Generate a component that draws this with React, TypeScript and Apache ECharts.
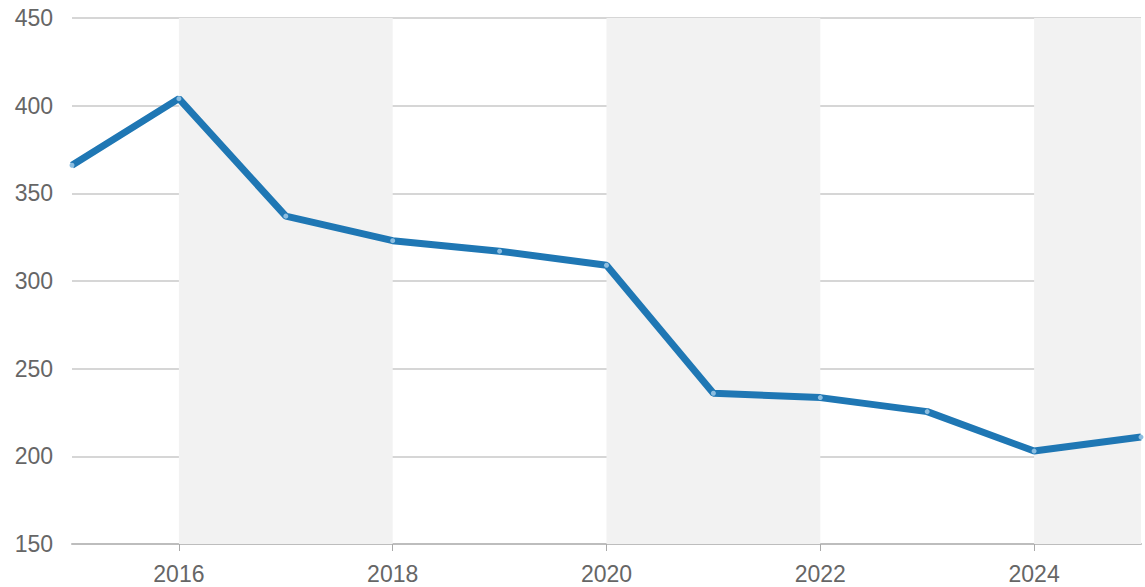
import React, { useEffect, useRef } from "react";
import * as echarts from "echarts";

const years = ["2015", "2016", "2017", "2018", "2019", "2020", "2021", "2022", "2023", "2024", "2025"];
const values = [366, 404, 337, 323, 317, 309, 236, 233.5, 225.5, 203, 211];
const shadedBands = [["2016", "2018"], ["2020", "2022"], ["2024", "2025"]];

export default function App() {
  const ref = useRef<HTMLDivElement>(null);
  useEffect(() => {
    if (!ref.current) return;
    const chart = echarts.init(ref.current, undefined, { renderer: "svg" });
    const font = "Liberation Sans, Arial, sans-serif";
    chart.setOption({
      animation: false,
      grid: { left: 72, right: 4, top: 18, bottom: 43 },
      xAxis: {
        type: "category",
        data: years,
        boundaryGap: false,
        axisLine: { lineStyle: { color: "#bdbdbd", width: 2 } },
        axisTick: {
          show: true,
          interval: (i: number) => i % 2 === 1,
          length: 7,
          lineStyle: { color: "#aaaaaa" },
        },
        axisLabel: {
          interval: (i: number) => i % 2 === 1,
          color: "#666666",
          fontSize: 23,
          fontFamily: font,
          margin: 18,
        },
        splitLine: { show: false },
      },
      yAxis: {
        type: "value",
        min: 150,
        max: 450,
        interval: 50,
        axisLine: { show: false },
        axisTick: { show: false },
        axisLabel: { color: "#666666", fontSize: 23, fontFamily: font, margin: 19 },
        splitLine: { lineStyle: { color: "#c8c8c8", width: 1.5 } },
      },
      series: [
        {
          type: "line",
          data: values,
          lineStyle: { color: "#1f77b4", width: 7 },
          itemStyle: { color: "#8bbde0", borderWidth: 0 },
          symbol: "circle",
          symbolSize: 5,
          showSymbol: true,
          z: 3,
          markArea: {
            silent: true,
            itemStyle: { color: "#f2f2f2" },
            data: shadedBands.map(([a, b]) => [{ xAxis: a }, { xAxis: b }]),
          },
        },
      ],
    });
    return () => chart.dispose();
  }, []);
  return (
    <div
      ref={ref}
      style={{ position: "fixed", left: 0, top: 0, width: 1145, height: 587, background: "#ffffff" }}
    />
  );
}
